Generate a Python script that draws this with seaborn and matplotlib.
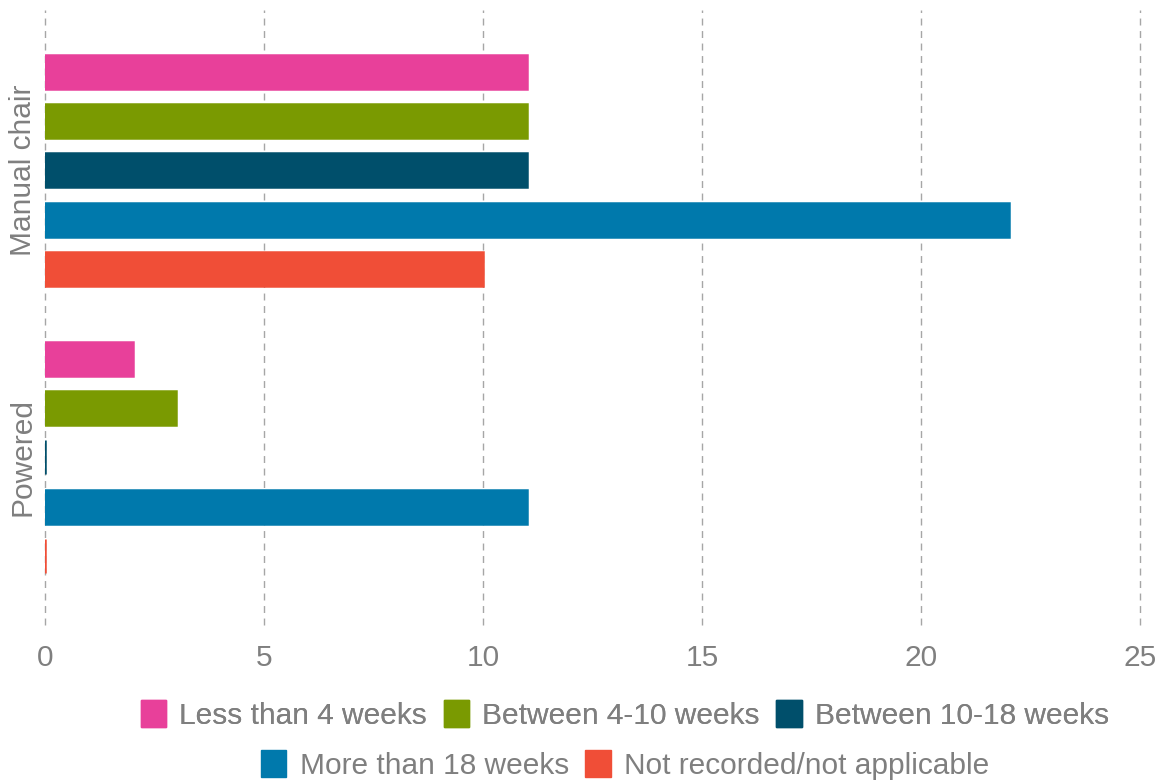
import seaborn as sns
import matplotlib.pyplot as plt
import pandas as pd
from matplotlib.patches import Patch


chair_types = ["Manual chair", "Powered"]
wait_bands = [
    "Less than 4 weeks",
    "Between 4-10 weeks",
    "Between 10-18 weeks",
    "More than 18 weeks",
    "Not recorded/not applicable",
]
manual_counts = [11, 11, 11, 22, 10]
powered_counts = [2, 3, 0, 11, 0]
x_ticks = [0, 5, 10, 15, 20, 25]

COLORS = ["#E8409A", "#7A9A01", "#004F6B", "#0079AC", "#F04E37"]
TEXT_GREY = "#7F7F7F"

rows = []
for band, m, p in zip(wait_bands, manual_counts, powered_counts):
    rows.append({"type": "Manual chair", "wait": band, "value": m})
    rows.append({"type": "Powered", "wait": band, "value": p})
df = pd.DataFrame(rows)

sns.set_style("white")
plt.rcParams["font.family"] = ["Liberation Sans", "DejaVu Sans"]

fig = plt.figure(figsize=(11.6, 7.8), dpi=100)
ax = fig.add_axes([45 / 1160, 1 - 625 / 780, 1095 / 1160, 615 / 780])

sns.barplot(
    data=df,
    x="value",
    y="type",
    hue="wait",
    order=chair_types,
    hue_order=wait_bands,
    palette=COLORS,
    saturation=1,
    orient="h",
    width=0.858,
    gap=0.31,
    legend=False,
    ax=ax,
)

# zero bars still show as a thin sliver in the original
for p in ax.patches:
    p.set_edgecolor(p.get_facecolor())
    p.set_linewidth(1.8)

ax.set_xlim(0, 25)
ax.set_ylim(1.584, -0.559)
ax.set_xticks(x_ticks)
ax.set_xticklabels([str(t) for t in x_ticks], fontsize=21.5, color=TEXT_GREY)
ax.set_yticks([0, 1])
ax.set_yticklabels(chair_types, rotation=90, va="center", fontsize=21.5, color=TEXT_GREY)
ax.tick_params(axis="x", length=0, pad=14)
ax.tick_params(axis="y", length=0, pad=6)
ax.set_xlabel("")
ax.set_ylabel("")

ax.xaxis.grid(True, linestyle=(0, (5, 4)), color="#A6A6A6", linewidth=1)
ax.yaxis.grid(False)
for gl in ax.get_xgridlines():
    gl.set_clip_on(False)
ax.set_axisbelow(True)
for s in ax.spines.values():
    s.set_visible(False)

handles = [Patch(facecolor=c, edgecolor=c) for c in COLORS]
leg_kw = dict(
    frameon=False,
    loc="center",
    fontsize=21.5,
    handlelength=0.85,
    handleheight=1.0,
    handletextpad=0.45,
    columnspacing=0.55,
    borderpad=0,
    labelcolor=TEXT_GREY,
)
leg1 = fig.legend(handles[:3], wait_bands[:3], ncol=3,
                  bbox_to_anchor=(625 / 1160, 1 - 715 / 780), **leg_kw)
fig.add_artist(leg1)
fig.legend(handles[3:], wait_bands[3:], ncol=2,
           bbox_to_anchor=(625 / 1160, 1 - 765 / 780), **leg_kw)

fig.savefig("out.png", dpi=100)
